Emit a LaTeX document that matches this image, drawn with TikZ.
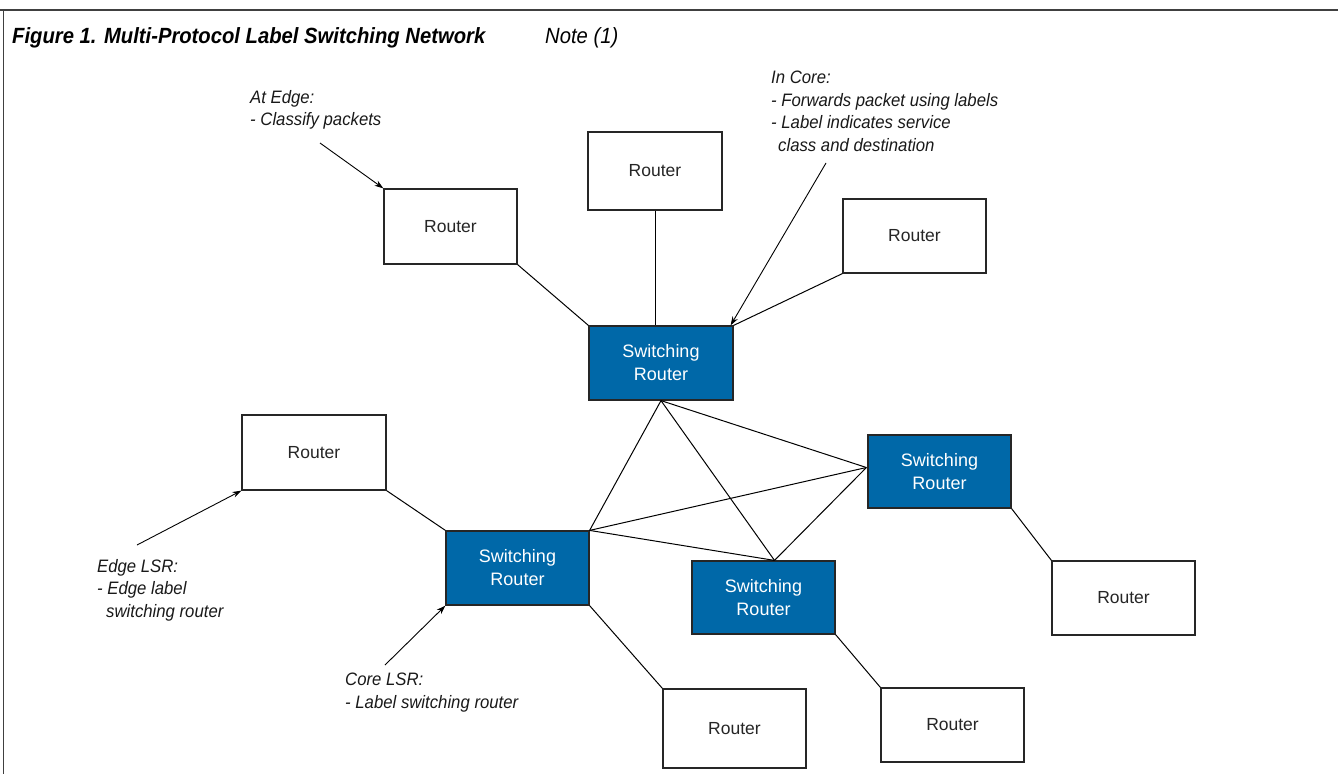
\documentclass[tikz,border=0pt]{standalone}
\usepackage{fontspec}
\setmainfont{Liberation Sans}
\newfontfamily\annfont[FakeStretch=0.93]{Liberation Sans}
\newfontfamily\ttlfont[FakeStretch=0.92]{Liberation Sans}
\usetikzlibrary{arrows.meta,calc}
\definecolor{srblue}{RGB}{0,104,168}
\tikzset{
  router/.style={draw=black!85, line width=1.2pt, fill=white, inner sep=0pt,
    font=\fontsize{17.5}{22}\selectfont, text=black!85},
  switchr/.style={draw=black!85, line width=1.2pt, fill=srblue, inner sep=0pt,
    align=center, font=\fontsize{18}{23}\selectfont, text=white},
  link/.style={line width=1pt, black},
  pointer/.style={line width=0.9pt, black, -{Stealth[length=9pt,width=6pt]}},
  ann/.style={anchor=north west, inner sep=0pt, align=left,
    font=\annfont\itshape\fontsize{18}{22.5}\selectfont, text=black!90},
  frameline/.style={black!75}
}
\begin{document}
\begin{tikzpicture}[x=1pt,y=-1pt]
\useasboundingbox (0,0) rectangle (1338,774);
% frame
\draw[frameline, line width=2pt] (0,9.5) -- (1338,9.5);
\draw[frameline, line width=1pt] (3,9.5) -- (3,774);
% title
\node[anchor=north west, inner sep=0pt, font=\ttlfont\bfseries\itshape\fontsize{22}{26}\selectfont] (title) at (12,27) {Figure 1. Multi-Protocol Label Switching Network};
\node[anchor=north west, inner sep=0pt, font=\ttlfont\itshape\fontsize{22}{26}\selectfont] (note) at (545,27) {Note (1)};
% routers
\node[router, minimum width=133pt, minimum height=75pt] (A) at (450.5,226.5) {Router};
\node[router, minimum width=134pt, minimum height=78pt] (B) at (655,171) {Router};
\node[router, minimum width=143pt, minimum height=74pt] (C) at (914.5,236) {Router};
\node[router, minimum width=144pt, minimum height=75pt] (D) at (314,452.5) {Router};
\node[router, minimum width=143pt, minimum height=74pt] (E) at (1123.5,598) {Router};
\node[router, minimum width=143pt, minimum height=79pt] (F) at (734.5,728.5) {Router};
\node[router, minimum width=143pt, minimum height=74pt] (G) at (952.5,725) {Router};
% switching routers
\node[switchr, minimum width=144pt, minimum height=74pt] (S1) at (661,363) {Switching\\Router};
\node[switchr, minimum width=143pt, minimum height=73pt] (S2) at (939.5,471.5) {Switching\\Router};
\node[switchr, minimum width=143pt, minimum height=74pt] (S3) at (517.5,568) {Switching\\Router};
\node[switchr, minimum width=143pt, minimum height=73pt] (S4) at (763.5,597.5) {Switching\\Router};
\coordinate (p4) at ($(S4.north)+(11,0)$);
\coordinate (p2) at ($(S2.west)+(-1,-4)$);
% links
\draw[link] (A.south east) -- (S1.north west);
\draw[link] (B.south) -- (B.south |- S1.north);
\draw[link] (C.south west) -- (S1.north east);
\draw[link] (S1.south) -- (S3.north east);
\draw[link] (S1.south) -- (p4);
\draw[link] (S1.south) -- (p2);
\draw[link] (S3.north east) -- (p2);
\draw[link] (S3.north east) -- (p4);
\draw[link] (p2) -- (p4);
\draw[link] (D.south east) -- (S3.north west);
\draw[link] (S2.south east) -- (E.north west);
\draw[link] (S3.south east) -- (F.north west);
\draw[link] (S4.south east) -- (G.north west);
% annotations
\node[ann] (atedge) at (250,90) {At Edge:\\- Classify packets};
\node[ann] (incore) at (771,71) {In Core:\\- Forwards packet using labels\\- Label indicates service\\\hspace*{7pt}class and destination};
\node[ann] (edgelsr) at (97,559) {Edge LSR:\\- Edge label\\\hspace*{9pt}switching router};
\node[ann] (corelsr) at (345,673) {Core LSR:\\- Label switching router};
\coordinate (a1) at (320,143);
\coordinate (a2) at (826,163);
\coordinate (a3) at (137,545);
\coordinate (a4) at (385,665);
\draw[pointer] (a1) -- (A.north west);
\draw[pointer] (a2) -- ($(S1.north east)+(-3,0)$);
\draw[pointer] (a3) -- (D.south west);
\draw[pointer] (a4) -- (S3.south west);
\end{tikzpicture}
\end{document}
